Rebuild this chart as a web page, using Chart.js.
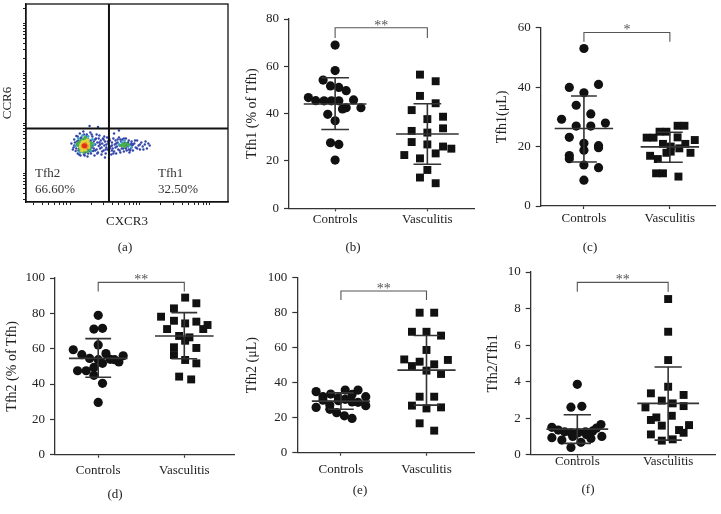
<!DOCTYPE html>
<html>
<head>
<meta charset="utf-8">
<script src="https://cdn.jsdelivr.net/npm/chart.js@4.4.0/dist/chart.umd.min.js"></script>
<style>
  body { margin: 0; background: #fff; }
  #fig { position: relative; width: 721px; height: 514px; overflow: hidden; font-family: "Liberation Serif", "DejaVu Serif", serif; color: #222; }
  canvas { position: absolute; }
  .lab { position: absolute; font-size: 13px; line-height: 16px; transform: translate(-50%, -50%); white-space: nowrap; }
  .gate { position: absolute; font-size: 13px; line-height: 16px; color: #333; white-space: nowrap; }
</style>
</head>
<body>
<div id="fig">
  <canvas id="pa" width="240" height="250" style="left:0;top:0;width:240px;height:250px"></canvas>
  <canvas id="pb" width="240" height="250" style="left:240px;top:0;width:240px;height:250px"></canvas>
  <canvas id="pc" width="241" height="250" style="left:480px;top:0;width:241px;height:250px"></canvas>
  <canvas id="pd" width="240" height="264" style="left:0;top:250px;width:240px;height:264px"></canvas>
  <canvas id="pe" width="240" height="264" style="left:240px;top:250px;width:240px;height:264px"></canvas>
  <canvas id="pf" width="241" height="264" style="left:480px;top:250px;width:241px;height:264px"></canvas>

  <div class="gate" style="left:35px;top:165px">Tfh2</div>
  <div class="gate" style="left:35px;top:181px">66.60%</div>
  <div class="gate" style="left:158px;top:165px">Tfh1</div>
  <div class="gate" style="left:158px;top:181px">32.50%</div>

  <div class="lab" style="left:125px;top:247px">(a)</div>
  <div class="lab" style="left:353px;top:247px">(b)</div>
  <div class="lab" style="left:590px;top:247px">(c)</div>
  <div class="lab" style="left:115px;top:494px">(d)</div>
  <div class="lab" style="left:360px;top:490px">(e)</div>
  <div class="lab" style="left:588px;top:489px">(f)</div>
</div>
<script>
// ---- data ----
const groups = ['Controls', 'Vasculitis'];

// (a) flow plot, log10 fluorescence units (CXCR3, CCR6)
const flowXRange = [1.37, 4.26];
const flowYRange = [1.43, 5.39];
const gateX = 2.557;
const gateY = 2.90;
const flowRed = [[2.21, 2.56], [2.215, 2.55], [2.205, 2.545], [2.20, 2.56]];
const flowOrange = [[2.19, 2.57], [2.22, 2.59], [2.24, 2.55], [2.20, 2.53], [2.23, 2.52], [2.18, 2.55]];
const flowYellow = [[2.16, 2.58], [2.18, 2.63], [2.22, 2.64], [2.26, 2.60], [2.26, 2.53], [2.22, 2.48], [2.18, 2.50], [2.15, 2.53],
  [2.25, 2.66], [2.17, 2.46]];
const flowGreen = [[2.12, 2.56], [2.13, 2.62], [2.16, 2.66], [2.20, 2.69], [2.25, 2.67], [2.28, 2.62], [2.30, 2.55], [2.28, 2.48],
  [2.24, 2.44], [2.19, 2.43], [2.14, 2.48], [2.15, 2.56], [2.76, 2.58], [2.80, 2.60], [2.83, 2.57], [2.78, 2.54], [2.22, 2.72],
  [2.11, 2.60], [2.31, 2.60], [2.73, 2.56]];
const flowCyan = [[2.08, 2.55], [2.12, 2.70], [2.30, 2.45], [2.32, 2.68], [2.14, 2.42], [2.34, 2.58], [2.70, 2.58], [2.74, 2.62],
  [2.84, 2.56], [2.78, 2.66], [2.88, 2.52], [2.26, 2.74], [2.18, 2.76]];
const flowBlue = [[2.02, 2.60], [2.05, 2.52], [2.06, 2.68], [2.08, 2.45], [2.09, 2.75], [2.10, 2.58], [2.11, 2.40], [2.12, 2.66],
  [2.13, 2.50], [2.14, 2.80], [2.15, 2.36], [2.16, 2.72], [2.17, 2.44], [2.18, 2.62], [2.19, 2.84], [2.20, 2.38], [2.21, 2.70],
  [2.22, 2.42], [2.24, 2.78], [2.25, 2.34], [2.26, 2.68], [2.27, 2.46], [2.28, 2.60], [2.29, 2.82], [2.30, 2.40], [2.31, 2.52],
  [2.32, 2.74], [2.33, 2.45], [2.34, 2.64], [2.35, 2.36], [2.36, 2.58], [2.37, 2.70], [2.38, 2.48], [2.39, 2.62], [2.40, 2.42],
  [2.41, 2.55], [2.42, 2.76], [2.43, 2.50], [2.44, 2.66], [2.45, 2.38], [2.46, 2.60], [2.47, 2.70], [2.48, 2.46], [2.49, 2.56],
  [2.50, 2.64], [2.51, 2.40], [2.52, 2.52], [2.53, 2.72], [2.54, 2.48], [2.55, 2.60], [2.56, 2.44], [2.57, 2.66], [2.58, 2.54],
  [2.59, 2.38], [2.60, 2.62], [2.61, 2.50], [2.62, 2.70], [2.63, 2.44], [2.64, 2.58], [2.65, 2.66], [2.66, 2.40], [2.67, 2.54],
  [2.68, 2.62], [2.69, 2.48], [2.70, 2.72], [2.71, 2.56], [2.72, 2.42], [2.73, 2.64], [2.74, 2.50], [2.75, 2.68], [2.76, 2.58],
  [2.77, 2.44], [2.78, 2.62], [2.79, 2.52], [2.80, 2.70], [2.81, 2.46], [2.82, 2.60], [2.83, 2.54], [2.84, 2.66], [2.85, 2.42],
  [2.86, 2.58], [2.87, 2.50], [2.88, 2.64], [2.89, 2.56], [2.90, 2.46], [2.92, 2.60], [2.94, 2.52], [2.96, 2.66], [2.98, 2.56],
  [3.00, 2.48], [3.02, 2.62], [3.04, 2.54], [3.07, 2.58], [3.10, 2.50], [3.14, 2.56], [2.28, 2.95], [2.40, 2.93], [2.63, 2.80],
  [2.70, 2.86], [2.50, 2.32], [2.06, 2.56], [2.10, 2.64], [2.12, 2.46], [2.15, 2.70], [2.18, 2.52], [2.20, 2.78], [2.23, 2.48],
  [2.26, 2.40], [2.30, 2.66], [2.33, 2.56], [2.36, 2.46], [2.38, 2.78], [2.42, 2.62], [2.45, 2.52], [2.48, 2.68], [2.52, 2.58],
  [2.56, 2.70], [2.60, 2.46], [2.66, 2.60], [2.72, 2.68], [2.76, 2.50], [2.80, 2.56], [2.84, 2.48], [2.88, 2.60],
  [2.04, 2.48], [2.07, 2.62], [2.09, 2.50], [2.11, 2.74], [2.13, 2.38], [2.16, 2.48], [2.19, 2.68], [2.21, 2.36], [2.23, 2.74],
  [2.25, 2.50], [2.27, 2.64], [2.29, 2.44], [2.31, 2.78], [2.34, 2.50], [2.36, 2.68], [2.39, 2.40], [2.41, 2.70], [2.43, 2.58],
  [2.46, 2.44], [2.49, 2.74], [2.51, 2.48], [2.54, 2.64], [2.57, 2.50], [2.60, 2.56], [2.62, 2.40], [2.65, 2.52], [2.68, 2.68],
  [2.71, 2.46], [2.74, 2.56], [2.77, 2.70], [2.80, 2.50], [2.83, 2.62], [2.86, 2.46], [2.90, 2.58], [2.93, 2.66], [2.96, 2.50],
  [3.00, 2.58], [3.05, 2.48], [3.08, 2.64], [3.12, 2.60]];

// (b) Tfh1 (% of Tfh): [x jitter, value]
const tfh1PctTicks = [0, 20, 40, 60, 80];
const tfh1PctControls = [[1.00, 69.0], [1.00, 58.2], [0.87, 54.2], [0.95, 51.7], [1.04, 51.1], [1.12, 49.7], [0.71, 46.8],
  [0.79, 45.5], [0.88, 45.4], [0.96, 45.4], [1.04, 45.4], [1.20, 45.8], [1.28, 42.5], [1.12, 42.5], [1.08, 42.0], [0.92, 39.7],
  [1.00, 37.0], [0.95, 27.7], [1.04, 27.0], [1.00, 20.4]];
const tfh1PctVasculitis = [[1.92, 56.5], [2.09, 53.7], [1.92, 47.5], [2.09, 44.4], [1.83, 41.5], [2.00, 37.7], [2.17, 38.7],
  [2.17, 33.8], [1.83, 32.7], [2.00, 32.0], [1.83, 28.0], [2.00, 27.0], [2.17, 26.1], [2.26, 25.2], [1.75, 22.5], [2.09, 23.2],
  [1.92, 21.1], [2.00, 16.2], [1.92, 13.0], [2.09, 10.6]];
const tfh1PctStats = [[44.1, 33.3, 55.2], [31.4, 18.6, 44.2]]; // mean, mean-SD, mean+SD
const tfh1PctBracket = [72, 76.3];

// (c) Tfh1 (uL)
const tfh1CountTicks = [0, 20, 40, 60];
const tfh1CountControls = [[1.00, 53.0], [0.83, 39.9], [1.17, 40.9], [1.00, 38.1], [0.91, 33.9], [1.08, 31.0], [0.74, 29.2],
  [0.91, 26.9], [1.08, 26.9], [1.25, 27.9], [0.83, 23.1], [1.00, 21.1], [1.17, 20.3], [1.17, 19.6], [1.00, 18.8], [0.83, 17.0],
  [0.83, 15.9], [1.00, 13.8], [1.17, 12.9], [1.00, 8.7]];
const tfh1CountVasculitis = [[2.09, 27.0], [2.17, 27.0], [1.73, 23.0], [1.81, 23.0], [1.88, 25.0], [1.96, 25.0], [2.09, 23.1],
  [2.29, 22.2], [1.92, 20.9], [2.01, 20.0], [2.18, 20.9], [2.11, 19.4], [1.96, 17.9], [2.24, 17.9], [1.77, 16.9], [1.86, 15.8],
  [1.84, 11.0], [1.92, 11.0], [2.10, 9.9], [2.01, 18.3]];
const tfh1CountStats = [[26.1, 14.8, 37.0], [19.9, 14.7, 24.8]];
const tfh1CountBracket = [55.3, 58.4];

// (d) Tfh2 (% of Tfh)
const tfh2PctTicks = [0, 20, 40, 60, 80, 100];
const tfh2PctControls = [[1.00, 78.9], [0.95, 71.1], [1.05, 71.5], [1.00, 62.1], [0.71, 59.4], [0.81, 56.6], [0.90, 54.5],
  [1.00, 53.8], [1.09, 57.2], [1.14, 54.0], [1.19, 53.8], [1.24, 52.5], [1.29, 56.0], [0.76, 47.5], [0.86, 47.5], [0.95, 49.4],
  [0.95, 44.9], [1.05, 40.4], [1.00, 29.6], [1.05, 51.7]];
const tfh2PctVasculitis = [[2.01, 88.9], [2.14, 85.7], [1.88, 82.8], [1.73, 78.1], [1.88, 75.8], [2.01, 74.3], [2.14, 75.3],
  [2.27, 73.4], [1.80, 71.1], [2.22, 71.1], [1.94, 67.2], [2.06, 66.4], [2.01, 64.5], [1.88, 60.8], [2.14, 60.4], [1.88, 56.4],
  [2.01, 53.6], [2.14, 51.7], [1.94, 44.2], [2.08, 42.6]];
const tfh2PctStats = [[54.5, 43.8, 65.7], [67.2, 54.3, 80.4]];
const tfh2PctBracket = [92.3, 97.5];

// (e) Tfh2 (uL)
const tfh2CountTicks = [0, 20, 40, 60, 80, 100];
const tfh2CountControls = [[0.71, 34.9], [0.79, 32.0], [0.88, 33.5], [0.97, 31.4], [1.05, 35.8], [1.13, 33.3], [1.20, 35.8],
  [1.29, 32.0], [0.71, 25.9], [0.87, 27.2], [0.87, 24.8], [0.95, 22.9], [1.04, 21.1], [1.13, 19.6], [0.97, 29.7], [1.05, 30.5],
  [1.20, 28.8], [1.29, 26.9], [0.79, 30.0], [1.13, 29.0]];
const tfh2CountVasculitis = [[1.92, 80.0], [2.09, 80.0], [1.83, 69.1], [2.00, 69.1], [2.17, 66.9], [2.00, 58.7], [1.74, 53.3],
  [1.92, 52.0], [2.09, 50.5], [1.83, 49.5], [2.25, 53.0], [2.00, 46.9], [2.17, 45.0], [1.92, 32.0], [2.09, 32.0], [1.83, 26.9],
  [2.00, 25.3], [2.17, 25.9], [1.92, 16.8], [2.09, 12.6]];
const tfh2CountStats = [[29.5, 24.8, 34.2], [47.2, 27.2, 67.0]];
const tfh2CountBracket = [87.2, 92.4];

// (f) Tfh2/Tfh1
const ratioTicks = [0, 2, 4, 6, 8, 10];
const ratioControls = [[1.00, 3.85], [0.93, 2.60], [1.05, 2.65], [0.72, 1.50], [0.79, 1.35], [0.86, 1.25], [0.93, 1.20],
  [1.01, 1.20], [1.09, 1.25], [1.17, 1.30], [1.26, 1.65], [1.21, 1.45], [0.72, 0.93], [0.83, 0.80], [0.95, 1.00], [1.04, 0.68],
  [1.15, 0.89], [1.27, 1.00], [0.93, 0.40], [1.10, 1.10]];
const ratioVasculitis = [[2.00, 8.52], [2.00, 6.73], [2.00, 5.18], [2.00, 3.72], [1.81, 3.36], [2.17, 3.27], [1.93, 2.96],
  [2.05, 2.81], [1.75, 2.59], [2.17, 2.66], [1.87, 2.04], [1.81, 1.90], [2.04, 2.13], [1.93, 1.59], [2.23, 1.62], [2.12, 1.35],
  [2.17, 1.20], [1.81, 1.11], [1.93, 0.77], [2.05, 0.84]];
const ratioStats = [[1.40, 0.62, 2.19], [2.81, 0.80, 4.80]];
const ratioBracket = [8.92, 9.43];

// ---- drawing ----
const FAMILY = '"Liberation Serif", "DejaVu Serif", serif';
Chart.defaults.font.family = FAMILY;
Chart.defaults.color = '#222';
Chart.defaults.animation = false;
Chart.defaults.events = [];
Chart.defaults.plugins.legend.display = false;
Chart.defaults.plugins.tooltip.enabled = false;

const pts = arr => arr.map(d => ({ x: d[0], y: d[1] }));

const starPlugin = {
  id: 'star',
  afterDatasetsDraw(chart, args, o) {
    const { ctx, scales } = chart;
    ctx.save();
    ctx.fillStyle = '#555';
    ctx.font = '14px ' + FAMILY;
    ctx.textAlign = 'center';
    ctx.textBaseline = 'alphabetic';
    ctx.fillText(o.text, scales.x.getPixelForValue(1.5), scales.y.getPixelForValue(o.at) + 2);
    ctx.restore();
  }
};

function dotPlot(id, p) {
  const statPts = [];
  p.stats.forEach((s, i) => {
    const c = i + 1;
    statPts.push(
      { x: c - 0.34, y: s[0] }, { x: c + 0.34, y: s[0] }, { x: c, y: null },
      { x: c, y: s[1] }, { x: c, y: s[2] }, { x: c, y: null },
      { x: c - 0.15, y: s[2] }, { x: c + 0.15, y: s[2] }, { x: c, y: null },
      { x: c - 0.15, y: s[1] }, { x: c + 0.15, y: s[1] }, { x: c, y: null });
  });
  const b = p.bracket;
  const bracketPts = [{ x: 1, y: b[0] }, { x: 1, y: b[1] }, { x: 2, y: b[1] }, { x: 2, y: b[0] }];

  new Chart(document.getElementById(id), {
    type: 'scatter',
    data: {
      datasets: [
        { type: 'line', data: statPts, borderColor: '#333', borderWidth: 1.6, pointRadius: 0, spanGaps: false, tension: 0, clip: false },
        { type: 'line', data: bracketPts, borderColor: '#555', borderWidth: 1.1, pointRadius: 0, tension: 0, clip: false },
        { data: pts(p.controls), pointStyle: 'circle', pointRadius: 4.6, backgroundColor: '#111', borderWidth: 0, clip: false },
        { data: pts(p.vasculitis), pointStyle: 'rect', pointRadius: 5.6, backgroundColor: '#111', borderWidth: 0, clip: false }
      ]
    },
    options: {
      responsive: false,
      layout: { padding: { left: 0, top: p.padT, right: p.padR, bottom: 0 } },
      plugins: { star: { text: p.star, at: b[1] } },
      scales: {
        x: {
          type: 'linear', min: p.xMin, max: p.xMax,
          afterFit: s => { s.height = p.xAxisH; },
          afterBuildTicks: s => { s.ticks = groups.map((g, i) => ({ value: i + 1 })); },
          ticks: { callback: v => groups[v - 1], font: { size: 13 }, color: '#222', padding: p.xPad, autoSkip: false, maxRotation: 0 },
          grid: { drawOnChartArea: false, tickLength: 3, tickColor: '#333', tickWidth: 1.2 },
          border: { color: '#333', width: 1.3 }
        },
        y: {
          min: p.ticks[0], max: p.ticks[p.ticks.length - 1],
          afterFit: s => { s.width = p.yAxisW; },
          afterBuildTicks: s => { s.ticks = p.ticks.map(v => ({ value: v })); },
          ticks: { font: { size: 13 }, color: '#222', padding: 5 },
          grid: { drawOnChartArea: false, tickLength: 5, tickColor: '#333', tickWidth: 1.2 },
          border: { color: '#333', width: 1.3 },
          title: { display: true, text: p.title, font: { size: 14 }, color: '#222', padding: { top: p.titlePad, bottom: 0 } }
        }
      }
    },
    plugins: [starPlugin]
  });
}

dotPlot('pb', { controls: tfh1PctControls, vasculitis: tfh1PctVasculitis, stats: tfh1PctStats, bracket: tfh1PctBracket,
  ticks: tfh1PctTicks, star: '**', title: 'Tfh1 (% of Tfh)',
  xMin: 0.5, xMax: 2.51, yAxisW: 49, xAxisH: 41.7, padT: 19, padR: 2, titlePad: 3.6, xPad: 0.9 });
dotPlot('pc', { controls: tfh1CountControls, vasculitis: tfh1CountVasculitis, stats: tfh1CountStats, bracket: tfh1CountBracket,
  ticks: tfh1CountTicks, star: '*', title: 'Tfh1(μL)',
  xMin: 0.497, xMax: 2.53, yAxisW: 60.7, xAxisH: 44, padT: 27.7, padR: 0, titlePad: 13.6, xPad: 2.2 });
dotPlot('pd', { controls: tfh2PctControls, vasculitis: tfh2PctVasculitis, stats: tfh2PctStats, bracket: tfh2PctBracket,
  ticks: tfh2PctTicks, star: '**', title: 'Tfh2 (% of Tfh)',
  xMin: 0.498, xMax: 2.582, yAxisW: 55, xAxisH: 59.3, padT: 28, padR: 1, titlePad: 4.3, xPad: 5 });
dotPlot('pe', { controls: tfh2CountControls, vasculitis: tfh2CountVasculitis, stats: tfh2CountStats, bracket: tfh2CountBracket,
  ticks: tfh2CountTicks, star: '**', title: 'Tfh2 (μL)',
  xMin: 0.49, xMax: 2.56, yAxisW: 57.3, xAxisH: 61.3, padT: 27.7, padR: 2, titlePad: 4.3, xPad: 6.5 });
dotPlot('pf', { controls: ratioControls, vasculitis: ratioVasculitis, stats: ratioStats, bracket: ratioBracket,
  ticks: ratioTicks, star: '**', title: 'Tfh2/Tfh1',
  xMin: 0.487, xMax: 2.52, yAxisW: 50.7, xAxisH: 59.3, padT: 22, padR: 4, titlePad: 4.6, xPad: -3.5 });

// (a) flow cytometry plot
const framePlugin = {
  id: 'frame',
  afterDraw(chart) {
    const { ctx, chartArea: a } = chart;
    ctx.save();
    ctx.strokeStyle = '#111';
    ctx.lineWidth = 1.3;
    ctx.strokeRect(a.left, a.top, a.right - a.left, a.bottom - a.top);
    ctx.restore();
  }
};

function logTicks(range) {
  const out = [];
  for (let d = 0; d <= 6; d++) {
    for (let m = 1; m <= 9; m++) {
      const v = m * Math.pow(10, d);
      if (Math.log10(v) > range[0] && Math.log10(v) < range[1]) out.push({ value: v });
    }
  }
  return out;
}

const flowSets = [
  [flowRed, '#e0301c', 2.1], [flowOrange, '#f08a24', 2.0], [flowYellow, '#e4d23a', 1.9],
  [flowGreen, '#46b04a', 1.7], [flowCyan, '#3aa6cc', 1.4], [flowBlue, '#3345a8', 1.2]
].map(s => ({ data: pts(s[0]), backgroundColor: s[1], pointRadius: s[2], borderWidth: 0, xAxisID: 'xl', yAxisID: 'yl' }));

new Chart(document.getElementById('pa'), {
  type: 'scatter',
  data: {
    datasets: [
      { type: 'line', xAxisID: 'xl', yAxisID: 'yl', borderColor: '#111', borderWidth: 2, pointRadius: 0, spanGaps: false, tension: 0,
        data: [{ x: gateX, y: flowYRange[0] }, { x: gateX, y: flowYRange[1] }, { x: gateX, y: null },
               { x: flowXRange[0], y: gateY }, { x: flowXRange[1], y: gateY }] },
      ...flowSets
    ]
  },
  options: {
    responsive: false,
    layout: { padding: { left: 0, top: 1, right: 12, bottom: 0 } },
    scales: {
      xl: { type: 'linear', axis: 'x', position: 'bottom', display: false, min: flowXRange[0], max: flowXRange[1] },
      yl: { type: 'linear', axis: 'y', position: 'left', display: false, min: flowYRange[0], max: flowYRange[1] },
      x: {
        type: 'logarithmic', position: 'bottom', min: Math.pow(10, flowXRange[0]), max: Math.pow(10, flowXRange[1]),
        afterFit: s => { s.height = 48; },
        afterBuildTicks: s => { s.ticks = logTicks(flowXRange); },
        ticks: { display: false },
        grid: { drawOnChartArea: false, tickLength: 3, tickColor: '#222', tickWidth: 1 },
        border: { color: '#111', width: 1.3 },
        title: { display: true, text: 'CXCR3', font: { size: 13 }, color: '#222', padding: { top: 0, bottom: 21 } }
      },
      y: {
        type: 'logarithmic', position: 'left', min: Math.pow(10, flowYRange[0]), max: Math.pow(10, flowYRange[1]),
        afterFit: s => { s.width = 26; s.paddingTop = 0; s.paddingBottom = 0; },
        afterBuildTicks: s => { s.ticks = logTicks(flowYRange); },
        ticks: { display: false },
        grid: { drawOnChartArea: false, tickLength: 3, tickColor: '#222', tickWidth: 1 },
        border: { color: '#111', width: 1.3 },
        title: { display: true, text: 'CCR6', font: { size: 13 }, color: '#222', padding: { top: 0, bottom: 0 } }
      }
    }
  },
  plugins: [framePlugin]
});
</script>
</body>
</html>
